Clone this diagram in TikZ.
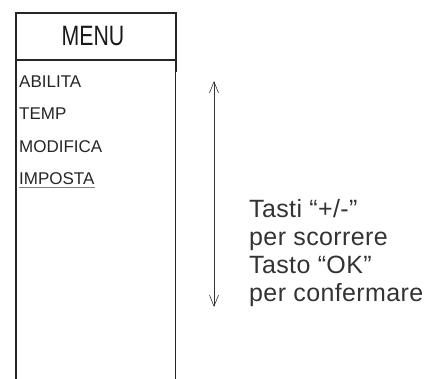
\documentclass[tikz,border=0pt]{standalone}
\usepackage{fontspec}
\setmainfont{Liberation Sans}
\newfontfamily\leggera[LetterSpace=1.5]{Liberation Sans}
\usetikzlibrary{arrows.meta}
\tikzset{
  bordo/.style={line width=2.2pt, color=black!85},
  voce/.style={anchor=base west, inner sep=0pt, text=black!85, font=\fontsize{17}{18}\selectfont},
  riga/.style={anchor=base west, inner sep=0pt, text=black!80, font=\leggera\fontsize{25}{27}\selectfont},
  freccia/.style={{Straight Barb[length=11pt,width=9pt]}-{Straight Barb[length=11pt,width=9pt]}, line width=0.6pt, black!80},
}
\begin{document}
\begin{tikzpicture}[x=1pt,y=-1pt]
  \useasboundingbox (0,0) rectangle (428,379);
  %%%%%%%%%%%%%The menu box%%%%%%%%%%%%%%%%%%%%%%
  \draw[bordo] (16,379) -- (16,13) -- (176,13) -- (176,72);
  \draw[bordo] (16,60) -- (176,60);
  \draw[line width=1.3pt, black!85] (175.5,60) -- (175.5,379);
  \node[inner sep=0pt, xscale=0.76, text=black!90, font=\fontsize{28}{29}\selectfont] (menu) at (93,36) {MENU};

  %%%%%%%%%%%%%The items%%%%%%%%%%%%%%%%%%%%%%
  \node[voce] (abilita) at (19,87.5) {ABILITA};
  \node[voce] (temp) at (19,120) {TEMP};
  \node[voce] (modifica) at (19,152.5) {MODIFICA};
  \node[voce] (imposta) at (19,185) {IMPOSTA};
  \draw[gray, line width=0.9pt] ([yshift=-2.5pt]imposta.base west) -- ([yshift=-2.5pt]imposta.base east);

  %%%%%%%%%%%%%The keys%%%%%%%%%%%%%%%%%%%%%%
  \coordinate (su) at (214,81);
  \coordinate (giu) at (214,307);
  \draw[freccia] (su) -- (giu);
  \node[riga] (tasti) at (249,218) {Tasti “+/-”};
  \node[riga] (scorrere) at (249,245.8) {per scorrere};
  \node[riga] (tasto) at (249,273.6) {Tasto “OK”};
  \node[riga] (conferma) at (249,301.4) {per confermare};
\end{tikzpicture}
\end{document}
